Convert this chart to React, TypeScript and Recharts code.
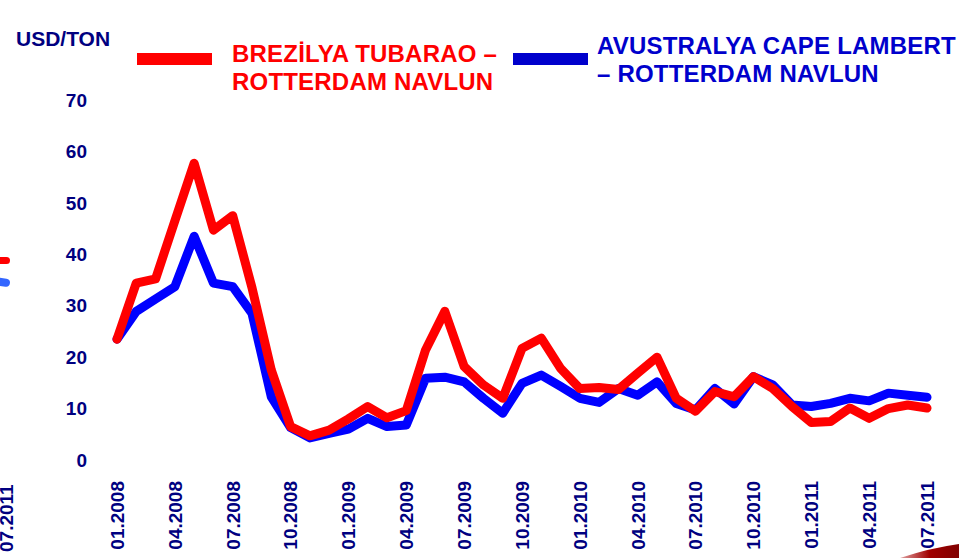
import React from 'react';
import { LineChart, Line, XAxis, YAxis } from 'recharts';

const months = [
  '01.2008', '02.2008', '03.2008', '04.2008', '05.2008', '06.2008', '07.2008', '08.2008', '09.2008', '10.2008', '11.2008', '12.2008',
  '01.2009', '02.2009', '03.2009', '04.2009', '05.2009', '06.2009', '07.2009', '08.2009', '09.2009', '10.2009', '11.2009', '12.2009',
  '01.2010', '02.2010', '03.2010', '04.2010', '05.2010', '06.2010', '07.2010', '08.2010', '09.2010', '10.2010', '11.2010', '12.2010',
  '01.2011', '02.2011', '03.2011', '04.2011', '05.2011', '06.2011', '07.2011',
];

const brazil = [
  23.5, 34.4, 35.2, 46.5, 57.7, 44.7, 47.5, 33.5, 17.5, 6.5, 4.7, 5.8,
  8.0, 10.4, 8.2, 9.6, 21.4, 28.9, 18.2, 14.6, 12.0, 21.7, 23.7, 17.8,
  13.9, 14.1, 13.7, 16.9, 20.0, 12.0, 9.5, 13.3, 12.3, 16.2, 13.9, 10.4,
  7.3, 7.5, 10.1, 8.1, 10.0, 10.7, 10.1,
];

const australia = [
  23.5, 28.9, 31.3, 33.7, 43.5, 34.4, 33.7, 28.5, 12.3, 6.3, 4.3, 5.2,
  6.0, 8.1, 6.5, 6.8, 15.9, 16.1, 15.2, 12.0, 9.1, 14.9, 16.5, 14.3,
  12.0, 11.2, 13.9, 12.6, 15.2, 11.0, 9.7, 13.9, 10.9, 16.2, 14.6, 10.7,
  10.4, 11.0, 12.0, 11.5, 13.0, 12.6, 12.2,
];

const yTicks = [0, 10, 20, 30, 40, 50, 60, 70];

const data = months.map((m, i) => ({ month: m, brazil: brazil[i], australia: australia[i] }));

const FONT = '"Liberation Sans", Arial, Helvetica, sans-serif';
const NAVY = '#000080';

const XTick = ({ x, y, payload }: any) => (
  <text
    transform={`translate(${x},${y + 13}) rotate(-90)`}
    textAnchor="end"
    dy="0.36em"
    fill={NAVY}
    fontSize={19}
    fontWeight="bold"
    fontFamily={FONT}
  >
    {payload.value}
  </text>
);

export default function App() {
  return (
    <div style={{ position: 'absolute', left: 0, top: 0, width: 959, height: 558, background: '#fff', overflow: 'hidden', fontFamily: FONT }}>
      <LineChart width={959} height={558} data={data} margin={{ top: 100, right: 32, bottom: 0, left: 0 }}>
        <XAxis
          dataKey="month"
          interval={2}
          height={98}
          axisLine={false}
          tickLine={false}
          tick={<XTick />}
        />
        <YAxis
          domain={[0, 70]}
          ticks={yTicks}
          width={117}
          axisLine={false}
          tickLine={false}
          tickSize={0}
          tickMargin={30}
          tick={{ fill: NAVY, fontSize: 19, fontWeight: 'bold', fontFamily: FONT }}
        />
        <Line
          dataKey="australia"
          stroke="#0000FF"
          strokeWidth={9}
          dot={false}
          strokeLinejoin="round"
          strokeLinecap="round"
          isAnimationActive={false}
        />
        <Line
          dataKey="brazil"
          stroke="#FF0000"
          strokeWidth={9}
          dot={false}
          strokeLinejoin="round"
          strokeLinecap="round"
          isAnimationActive={false}
        />
      </LineChart>

      {/* axis title */}
      <div style={{ position: 'absolute', left: 16, top: 27, fontSize: 21, fontWeight: 'bold', color: NAVY }}>USD/TON</div>

      {/* legend */}
      <div style={{ position: 'absolute', left: 137, top: 53, width: 75, height: 12, background: '#FF0000' }} />
      <div style={{ position: 'absolute', left: 232, top: 40, fontSize: 24, lineHeight: '28px', fontWeight: 'bold', color: '#FF0000', letterSpacing: 0.2 }}>
        BREZİLYA TUBARAO –<br />ROTTERDAM NAVLUN
      </div>
      <div style={{ position: 'absolute', left: 513, top: 53, width: 75, height: 12, background: '#0000CC' }} />
      <div style={{ position: 'absolute', left: 597, top: 32, fontSize: 24, lineHeight: '28px', fontWeight: 'bold', color: '#0000CC', letterSpacing: 0.2 }}>
        AVUSTRALYA CAPE LAMBERT<br />– ROTTERDAM NAVLUN
      </div>

      {/* leftover slide fragments at the left edge */}
      <div style={{ position: 'absolute', left: -8, top: 257, width: 18, height: 7, borderRadius: 4, background: '#FF0000' }} />
      <div style={{ position: 'absolute', left: -8, top: 278, width: 18, height: 8, borderRadius: 4, background: '#3366FF', transform: 'rotate(8deg)' }} />
      <div
        style={{
          position: 'absolute', left: 7, top: 552, transformOrigin: '0 0', transform: 'rotate(-90deg)',
          fontSize: 19, fontWeight: 'bold', color: NAVY, lineHeight: '19px', whiteSpace: 'nowrap',
        }}
      >
        <span style={{ position: 'relative', top: -10 }}>07.2011</span>
      </div>
      <svg style={{ position: 'absolute', left: 0, top: 0 }} width={959} height={558}>
        <defs>
          <linearGradient id="sw" x1="0" y1="0" x2="1" y2="0">
            <stop offset="0" stopColor="#e0a0a0" />
            <stop offset="0.5" stopColor="#a00000" />
            <stop offset="1" stopColor="#800000" />
          </linearGradient>
        </defs>
        <path d="M900 558 Q930 548 959 544 L959 558 Z" fill="url(#sw)" />
      </svg>
    </div>
  );
}
